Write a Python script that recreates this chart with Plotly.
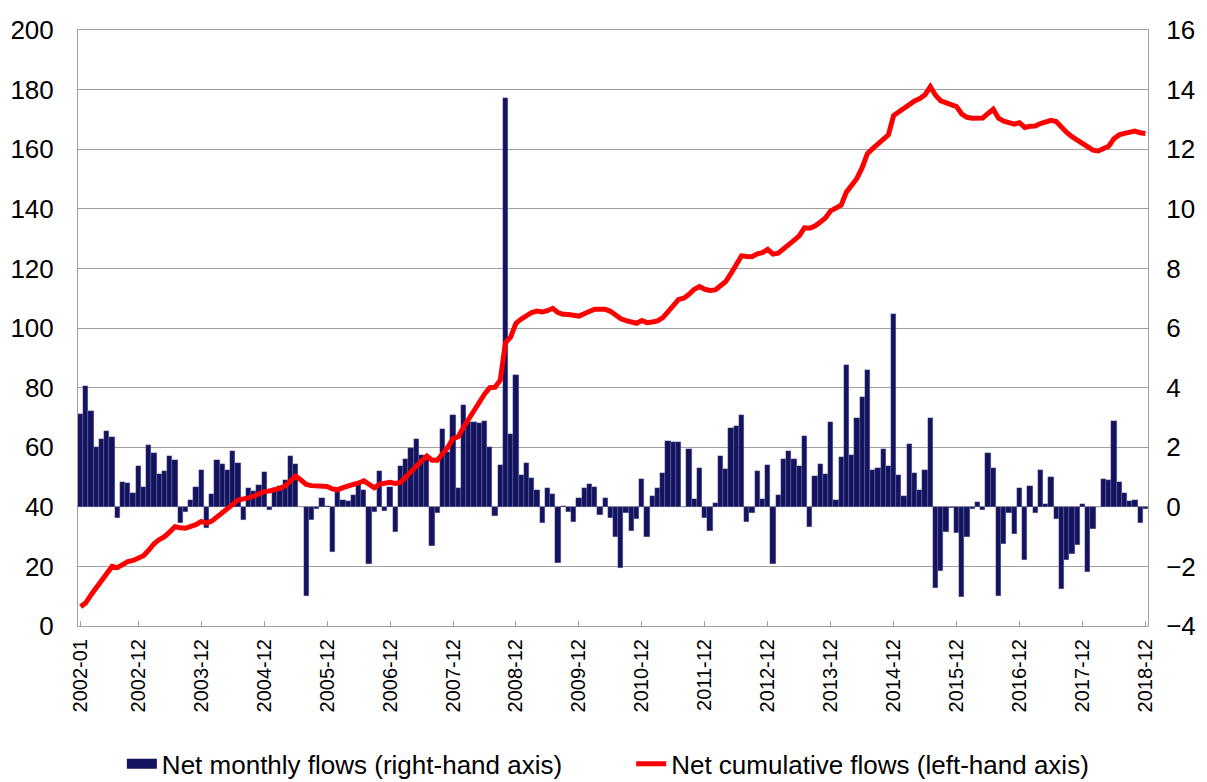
import plotly.graph_objects as go

months = [f"{y}-{m:02d}" for y in range(2002, 2019) for m in range(1, 13)]

monthly_flows = [
    3.13, 4.07, 3.20, 2.01, 2.29, 2.55, 2.35, -0.39, 0.84, 0.80, 0.47, 1.36,
    0.67, 2.06, 1.79, 1.11, 1.20, 1.72, 1.56, -0.54, -0.17, 0.22, 0.67, 1.22,
    -0.71, 0.42, 1.56, 1.43, 1.24, 1.88, 1.46, -0.43, 0.64, 0.53, 0.73, 1.16,
    -0.12, 0.62, 0.69, 0.89, 1.71, 1.44, -0.02, -2.99, -0.44, -0.07, 0.28, 0.02,
    -1.51, 0.51, 0.24, 0.21, 0.38, 0.84, 0.56, -1.92, -0.18, 1.20, -0.15, 0.67,
    -0.84, 1.37, 1.60, 1.97, 2.29, 1.74, 1.57, -1.31, -0.22, 2.62, 1.83, 3.07,
    0.63, 3.40, 2.86, 2.84, 2.82, 2.87, 2.00, -0.30, 1.40, 13.71, 2.45, 4.42,
    1.07, 1.47, 0.97, 0.57, -0.55, 0.62, 0.43, -1.90, 0.02, -0.19, -0.51, 0.31,
    0.62, 0.76, 0.65, -0.28, 0.28, -0.39, -1.02, -2.06, -0.22, -0.80, -0.40, 0.94,
    -1.02, 0.35, 0.64, 1.12, 2.20, 2.16, 2.17, 0.00, 1.94, 0.25, 1.31, -0.37,
    -0.82, 0.13, 1.71, 1.26, 2.66, 2.72, 3.09, -0.51, -0.20, 1.20, 0.25, 1.40,
    -1.91, 0.39, 1.61, 1.87, 1.61, 1.36, 2.39, -0.67, 1.04, 1.44, 1.10, 2.83,
    0.22, 1.66, 4.75, 1.75, 2.98, 3.69, 4.58, 1.25, 1.29, 1.94, 1.38, 6.47,
    1.07, 0.37, 2.11, 1.12, 0.57, 1.25, 2.98, -2.74, -2.16, -0.83, -0.05, -0.88,
    -3.02, -1.02, -0.06, 0.17, -0.11, 1.79, 1.30, -2.98, -1.24, -0.20, -0.91, 0.64,
    -1.79, 0.70, -0.22, 1.25, 0.08, 1.00, -0.42, -2.75, -1.80, -1.57, -1.29, 0.08,
    -2.20, -0.74, 0.00, 0.94, 0.91, 2.89, 0.84, 0.47, 0.19, 0.24, -0.54, -0.06,
]

cumulative_flows = [
    6.5, 7.8, 10.5, 13.0, 15.0, 18.0, 20.0, 19.6, 20.5, 21.6, 22.0, 22.8,
    23.6, 25.5, 27.6, 29.0, 30.0, 31.6, 33.3, 33.0, 32.8, 33.4, 34.0, 35.1,
    34.5, 35.2, 36.5, 37.8, 39.2, 40.8, 42.3, 42.5, 43.0, 43.6, 44.3, 45.1,
    45.3, 45.6, 46.2, 47.0, 48.5, 50.3, 49.0, 47.5, 47.1, 47.0, 47.1, 46.8,
    46.0, 45.7, 46.4, 46.8, 47.2, 48.0, 48.7, 47.6, 46.4, 47.6, 48.0, 48.2,
    47.8, 48.2, 50.0, 51.6, 53.6, 55.4, 57.0, 55.6, 55.6, 57.8, 60.0, 62.9,
    63.5, 66.7, 69.6, 72.3, 74.8, 77.8, 80.0, 80.1, 82.5, 95.0, 97.0, 101.6,
    103.0, 104.2, 105.2, 105.7, 105.4, 105.8, 106.6, 105.2, 104.6, 104.5, 104.2, 104.0,
    104.8, 105.5, 106.3, 106.3, 106.3, 105.6, 104.5, 103.1, 102.5, 102.1, 101.6, 102.5,
    101.8, 102.0, 102.4, 103.5, 105.3, 107.5, 109.6, 110.0, 111.3, 113.0, 113.9, 113.0,
    112.6, 112.8, 114.2, 115.6, 118.3, 121.0, 124.2, 124.0, 123.9, 124.9, 125.3, 126.4,
    124.8, 125.1, 126.4, 128.0, 129.4, 130.9, 133.6, 133.5, 134.2, 135.5, 136.9, 139.3,
    140.1, 141.2, 145.6, 147.6, 150.2, 153.8, 158.5, 160.2, 161.6, 163.3, 164.8, 171.3,
    172.6, 173.4, 175.1, 176.2, 177.0, 178.3, 181.0, 178.1, 176.2, 175.5, 175.2, 174.3,
    171.8, 170.7, 170.4, 170.4, 170.5, 172.0, 173.4, 170.4, 169.4, 168.9, 168.4, 168.9,
    167.3, 167.7, 167.8, 168.6, 169.0, 169.7, 169.3, 167.2, 165.6, 164.2, 163.0, 162.2,
    161.0, 159.7, 159.4, 160.0, 161.0, 163.5, 164.8, 165.3, 165.7, 166.1, 165.5, 165.3,
]

tick_labels = ["2002-01"] + [f"{y}-12" for y in range(2002, 2019)]

left_ticks = list(range(0, 201, 20))
right_ticks = list(range(-4, 17, 2))

FONT = "Liberation Sans, Arial, sans-serif"
BAR_COLOR = "#13135F"
LINE_COLOR = "#FF0000"
BAR_NAME = "Net monthly flows (right-hand axis)"
LINE_NAME = "Net cumulative flows (left-hand axis)"

fig = go.Figure()
fig.add_trace(go.Bar(
    x=months, y=monthly_flows, name=BAR_NAME, showlegend=False,
    marker=dict(color=BAR_COLOR, line=dict(color="rgba(140,140,180,0.7)", width=0.4)),
    yaxis="y",
))
# legend key for the bars: a filled rectangle like the reference's key
fig.add_trace(go.Scatter(
    x=[None], y=[None], name=BAR_NAME, mode="lines", legend="legend",
    line=dict(color=BAR_COLOR, width=18), yaxis="y",
    hoverinfo="skip",
))
fig.add_trace(go.Scatter(
    x=months, y=cumulative_flows, name=LINE_NAME, legend="legend2",
    mode="lines", line=dict(color=LINE_COLOR, width=5),
    yaxis="y2",
))

leg_common = dict(orientation="h", xanchor="left", yanchor="middle", y=-0.2315,
                  font=dict(size=26, color="black"), itemwidth=30,
                  bgcolor="rgba(0,0,0,0)", borderwidth=0)

fig.update_layout(
    width=1199, height=774,
    margin=dict(l=70, r=59, t=22, b=156, autoexpand=False),
    paper_bgcolor="white", plot_bgcolor="white",
    font=dict(family=FONT, size=20, color="black"),
    bargap=0, showlegend=True,
    legend=dict(x=0.041, **leg_common),
    legend2=dict(x=0.517, **leg_common),
    xaxis=dict(type="category", tickmode="array", tickvals=tick_labels, ticktext=tick_labels,
               tickangle=-90, tickfont=dict(size=20), showgrid=False, automargin=False,
               showline=True, linecolor="#A0A0A0", linewidth=1, mirror=True,
               ticks="inside", ticklen=5, tickcolor="#A0A0A0", ticklabelstandoff=4,
               range=[-0.5, len(months) - 0.5]),
    yaxis=dict(side="right", range=[-4, 16], tickvals=right_ticks, showgrid=True,
               gridcolor="#A0A0A0", gridwidth=1, zeroline=False, automargin=False,
               showline=True, linecolor="#A0A0A0", linewidth=1, ticks="",
               tickfont=dict(size=26), ticklabelstandoff=12),
    yaxis2=dict(side="left", overlaying="y", range=[0, 200], tickvals=left_ticks, showgrid=False,
                zeroline=False, showline=True, linecolor="#A0A0A0", linewidth=1, ticks="",
                automargin=False, tickfont=dict(size=26), ticklabelstandoff=18),
)

fig.write_html("out.html")
